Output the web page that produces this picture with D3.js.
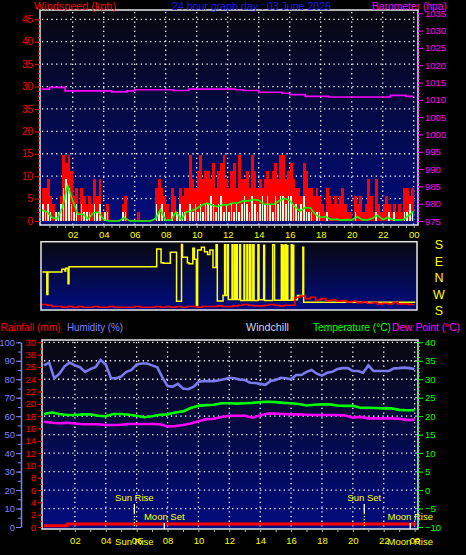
<!DOCTYPE html>
<html><head><meta charset="utf-8">
<script src="https://cdn.jsdelivr.net/npm/d3@7"></script>
<style>html,body{margin:0;padding:0;background:#000;}svg{display:block;}</style>
</head><body><svg id="c" width="466" height="555"></svg>
<script>
// ---------- data ----------
const hourTicks = [2,4,6,8,10,12,14,16,18,20,22,24];
const hourLabels = ["02","04","06","08","10","12","14","16","18","20","22","00"];
const windTicks = [0,5,10,15,20,25,30,35,40,45];
const windTickLabels = ["0","5","10","15","20","35","30","35","40","45"];
const baroTicks = [975,980,985,990,995,1000,1005,1010,1015,1020,1025,1030,1035];
const humTicks = [0,10,20,30,40,50,60,70,80,90,100];
const rainTicks = [0,2,4,6,8,10,12,14,16,18,20,22,24,26,28,30];
const rainTickLabels = ["0","2","4","6","8","10","12","14","16","18","20","22","24","26","38","30"];
const tempTicks = [-10,-5,0,5,10,15,20,25,30,35,40];
const dirTicks = [180,90,0,-90,-180];
const dirLabels = ["S","E","N","W","S"];

// wind gust (kph), 10-minute slots
const gust10min = [7.4,7.4,9.3,5.6,3.7,1.9,1.9,5.6,14.8,13,
 14.8,11.1,5.6,7.4,1.9,7.4,5.6,3.7,5.6,3.7,
 9.3,5.6,9.3,1.9,1.9,3.7,0,0,0,0,
 0,3.7,5.6,0,0,0,0,1.9,0,0,
 0,0,0,0,7.4,9.3,7.4,5.6,3.7,1.9,
 7.4,5.6,1.9,7.4,5.6,7.4,7.4,14.8,9.3,7.4,
 11.1,14.8,9.3,11.1,11.1,9.3,13,7.4,11.1,13,
 14.8,9.3,7.4,11.1,13,7.4,14.8,9.3,9.3,11.1,
 7.4,14.8,11.1,7.4,9.3,7.4,9.3,11.1,9.3,11.1,
 13,9.3,14.8,14.8,9.3,11.1,13,9.3,7.4,7.4,
 5.6,13,11.1,7.4,7.4,5.6,7.4,5.6,3.7,1.9,
 7.4,5.6,3.7,5.6,3.7,5.6,7.4,3.7,1.9,1.9,
 0,5.6,3.7,5.6,1.9,3.7,9.3,5.6,1.9,9.3,
 3.7,1.9,3.7,5.6,3.7,1.9,3.7,1.9,3.7,1.9,
 7.4,7.4,5.6,7.4];
// wind speed (kph), 10-minute slots
const speed10min = [3.7,1.9,3.7,1.9,0,1.9,1.9,3.7,7.4,9.3,
 7.4,3.7,1.9,3.7,0,3.7,1.9,1.9,1.9,0,
 3.7,1.9,3.7,0,1.9,1.9,0,0,0,0,
 0,1.9,1.9,0,0,0,0,0,0,0,
 0,0,0,0,3.7,1.9,3.7,1.9,0,0,
 1.9,0,1.9,3.7,1.9,1.9,0,3.7,1.9,3.7,
 1.9,3.7,1.9,3.7,3.7,5.6,3.7,1.9,3.7,5.6,
 1.9,3.7,1.9,3.7,1.9,3.7,1.9,3.7,5.6,3.7,
 1.9,5.6,3.7,1.9,3.7,5.6,3.7,5.6,3.7,1.9,
 5.6,3.7,5.6,5.6,3.7,5.6,5.6,3.7,3.7,1.9,
 3.7,5.6,1.9,1.9,1.9,0,1.9,1.9,0,0,
 1.9,0,0,0,0,0,0,0,0,0,
 0,1.9,0,0,0,0,0,0,0,1.9,
 0,0,0,0,1.9,0,1.9,0,0,0,
 1.9,1.9,3.7,1.9];
// average wind (kph), 20-minute points
const avg20min = [2.5,2.0,0.8,0.5,3.0,8.0,4.5,1.5,1.5,0.5,
 1.8,2.0,0.3,0,0,0,0.8,0,0,0,
 0,0,0.5,2.5,0.2,0.2,2.0,0.3,2.0,2.3,
 2.8,3.5,4.0,3.5,3.2,3.6,3.6,4.0,4.0,4.5,
 4.5,4.8,4.6,3.8,3.7,3.8,4.5,5.0,4.6,3.2,
 2.2,3.0,2.9,1.4,0.8,1.0,0.3,0.4,0.2,0.3,
 0.2,1.0,0.3,0.2,0.6,1.3,0.3,0.8,0.3,0.2,
 0.3,1.2,2.2];
// barometer (hPa), 30-minute points
const baro30min = [1013.1,1013.6,1013.6,1012.6,1012.6,1012.6,1012.6,1012.6,1012.6,1012.3,
 1012.3,1012.6,1012.9,1012.9,1012.9,1012.9,1012.9,1012.7,1012.7,1013.1,
 1013.1,1013.1,1013.1,1013.1,1013.1,1012.9,1012.7,1012.7,1012.2,1012.2,
 1012.2,1011.9,1011.5,1011.5,1011.0,1011.0,1011.0,1010.8,1010.8,1010.8,
 1010.8,1010.8,1010.8,1010.8,1010.8,1011.3,1011.3,1011.0,1011.0];
// wind direction (degrees) at change times (hours)
const dirHours = [0.05,0.33,0.4,1.3,1.5,1.55,1.7,1.76,7.42,7.7,7.85,8.3,8.7,9.02,9.08,9.4,9.5,9.75,9.85,9.98,
 10.06,10.3,10.5,10.7,10.85,11.05,11.25,11.33,11.7,11.8,11.86,11.98,12.04,12.28,12.34,12.45,12.5,12.56,12.62,12.77,
 12.83,13.05,13.1,13.24,13.3,13.42,13.5,13.62,13.7,13.95,14.02,14.32,14.38,14.9,15.02,15.46,15.51,15.57,15.62,15.72,
 15.77,15.83,15.88,16.1,16.15,16.21,16.26,16.5,16.85,16.9,24.1];
const dirDegrees = [30,267,30,45,35,50,326,58,156,80,78,138,231,180,110,80,75,160,100,205,
 150,165,140,125,150,55,178,232,262,178,262,178,240,178,240,178,240,178,240,178,
 235,178,235,178,235,178,235,178,235,178,238,176,235,178,236,178,236,176,236,178,
 236,175,236,178,236,176,238,262,165,225,225];
// red trace in direction panel (relative %), 20-minute points
const dirTrace20min = [9,8,6,6,5,6,5,6,5,5,
 6,5,5,6,5,5,5,5,6,5,
 5,5,6,5,6,5,6,5,6,6,
 5,6,6,6,7,6,6,7,8,9,
 8,7,7,8,9,8,7,8,
 8,20,22,18,20,16,18,15,16,14,15,13,14,12,13,11,12,10,11,10,12,10,10,9,10];
// humidity (%), 20-minute points
const humidity20min = [87.5,89,80.5,83,87,89,87.5,86.5,84,85.5,
 86.5,90.5,88,80.7,80.5,81.5,84,85,88,88.5,
 88.5,87.5,86.5,81,76.3,76,77.5,75,74.6,75.8,
 78.5,79,79,79,79.5,80,80.8,80.5,79.8,79.6,
 78.1,78,77.5,77,79,79.6,80.8,80.5,80,82.3,
 82.3,84,85,83,82,83.5,84,85.5,86,86,
 84.5,84.5,83.5,87.5,84.5,84.5,84.5,84.5,85.9,86,
 86.3,86,85.5];
// temperature (°C), 30-minute points
const temperature30min = [20.6,21.0,20.6,20.3,20.3,20.5,20.5,20.1,20.0,20.6,
 20.6,20.4,20.1,19.7,20.0,20.4,20.5,21.0,21.3,22.2,
 22.8,23.0,23.1,23.5,23.5,23.4,23.5,23.6,23.8,23.9,
 23.8,23.6,23.5,23.3,22.9,23.1,23.2,23.2,22.9,22.8,
 22.8,22.3,22.3,22.2,22.1,22.1,21.7,21.6,21.6];
// dew point (°C), 30-minute points
const dewPoint30min = [18.5,18.2,18.1,18.2,18.0,17.8,17.8,17.8,17.6,17.6,
 17.7,17.9,17.9,17.9,17.9,17.8,17.2,17.3,17.6,18.0,
 18.6,19.2,19.3,19.8,20.1,20.1,20.1,19.6,20.2,20.7,
 20.7,20.6,20.5,20.5,20.4,20.3,20.3,20.3,20.3,20.2,
 19.6,19.8,19.4,19.4,19.4,19.4,19.3,19.0,19.0];
// rainfall (mm), 30-minute points
const rain30min = [0,0,0,0.3,0.3,0.3,0.3,0.3,0.3,0.3,
 0.3,0.3,0.3,0.3,0.3,0.3,0.3,0.3,0.3,0.3,
 0.3,0.3,0.3,0.3,0.3,0.3,0.3,0.3,0.3,0.3,
 0.3,0.3,0.3,0.3,0.3,0.3,0.3,0.3,0.3,0.3,
 0.3,0.3,0.3,0.3,0.3,0.3,0.3,0.3,0];
const eventNames = ["Sun Rise","Moon Set","Sun Set","Moon Rise"];
const eventHours = [5.85,7.79,20.74,23.72];
const eventKinds = ["sun","moon","sun","moon"];

// ---------- drawing ----------
const FONT = "'Liberation Sans', Arial, sans-serif";
const svg = d3.select("#c");
svg.append("rect").attr("width",466).attr("height",555).attr("fill","#000");
const defs = svg.append("defs");
const grad = defs.append("linearGradient").attr("id","bg").attr("x1",0).attr("y1",0).attr("x2",0).attr("y2",1);
grad.append("stop").attr("offset","0%").attr("stop-color","#08080f");
grad.append("stop").attr("offset","100%").attr("stop-color","#000c80");

const xTop = d3.scaleLinear().domain([0,24]).range([41.7,413.7]);
const xBot = d3.scaleLinear().domain([0,24]).range([44,414.6]);
const yWind = d3.scaleLinear().domain([0,45]).range([221,19.3]);
const yBaro = d3.scaleLinear().domain([975,1035]).range([221,13.3]);
const yDir = d3.scaleLinear().domain([-180,180]).range([310.5,244.5]);
const yTrace = d3.scaleLinear().domain([0,100]).range([310.5,244.5]);
const yHum = d3.scaleLinear().domain([0,100]).range([527,342.3]);
const yRain = d3.scaleLinear().domain([0,30]).range([527,342.3]);
const yTemp = d3.scaleLinear().domain([-10,40]).range([527,342.3]);

const P1 = {x:40,y:10,w:378,h:215};
const P2 = {x:41,y:241.7,w:376,h:68.3};
const P3 = {x:42,y:340,w:376,h:189};

function panelBg(p,id){
  svg.append("rect").attr("x",p.x).attr("y",p.y).attr("width",p.w).attr("height",p.h).attr("fill","url(#bg)");
  defs.append("clipPath").attr("id",id).append("rect").attr("x",p.x).attr("y",p.y).attr("width",p.w).attr("height",p.h);
}
panelBg(P1,"c1"); panelBg(P2,"c2"); panelBg(P3,"c3");

function grid(p, xs, ys){
  const g = svg.append("g").attr("stroke","#ffffff").attr("stroke-width",1.3).attr("stroke-dasharray","1.3,3.4");
  g.selectAll("line.v").data(xs).join("line").attr("x1",d=>d).attr("x2",d=>d).attr("y1",p.y+2).attr("y2",p.y+p.h);
  g.selectAll("line.h").data(ys).join("line").attr("x1",p.x+2).attr("x2",p.x+p.w).attr("y1",d=>d).attr("y2",d=>d);
}
grid(P1, hourTicks.map(xTop), windTicks.slice(1).map(yWind));
grid(P3, hourTicks.map(xBot), humTicks.slice(1).map(yHum));

// ----- top panel data -----
const g1 = svg.append("g").attr("clip-path","url(#c1)");
const slot = 1/6;
g1.append("g").attr("shape-rendering","crispEdges").selectAll("rect").data(gust10min).join("rect")
  .attr("x",(d,i)=>xTop(i*slot)).attr("width",(d,i)=>xTop((i+1)*slot)-xTop(i*slot)+0.3)
  .attr("y",d=>Math.min(yWind(d),yWind(0)-1)).attr("height",d=>Math.max(1,yWind(0)-yWind(d)))
  .attr("fill","#ff0000");
g1.append("g").attr("shape-rendering","crispEdges").selectAll("rect").data(speed10min).join("rect")
  .attr("x",(d,i)=>xTop(i*slot)+0.4).attr("width",(d,i)=>Math.max(1,xTop((i+1)*slot)-xTop(i*slot)-1))
  .attr("y",d=>yWind(d)).attr("height",d=>yWind(0)-yWind(d))
  .attr("fill","#e4ffe4");
g1.append("path").datum(avg20min).attr("fill","none").attr("stroke","#00ff00").attr("stroke-width",1.6)
  .attr("d",d3.line().x((d,i)=>xTop(i/3)).y(d=>yWind(d)));
g1.append("path").datum(baro30min).attr("fill","none").attr("stroke","#ff00ff").attr("stroke-width",1.6)
  .attr("d",d3.line().curve(d3.curveStepAfter).x((d,i)=>xTop(i*0.5)).y(d=>yBaro(d)));

// ----- direction panel data -----
const g2 = svg.append("g").attr("clip-path","url(#c2)");
g2.append("path").datum(dirHours.map((h,i)=>[h,dirDegrees[i]])).attr("fill","none").attr("stroke","#ffff00").attr("stroke-width",1.5)
  .attr("d",d3.line().curve(d3.curveStepAfter).x(d=>xTop(d[0])).y(d=>yDir(d[1]>180?d[1]-360:d[1])));
g2.append("path").datum(dirTrace20min).attr("fill","none").attr("stroke","#ff0000").attr("stroke-width",1.6)
  .attr("d",d3.line().curve(d3.curveStepAfter).x((d,i)=>xTop(i/3)).y(d=>yTrace(d)));

// ----- bottom panel data -----
const g3 = svg.append("g").attr("clip-path","url(#c3)");
g3.append("path").datum(humidity20min).attr("fill","none").attr("stroke","#7a7aee").attr("stroke-width",2.6)
  .attr("d",d3.line().x((d,i)=>xBot(i/3)).y(d=>yHum(d)));
g3.append("path").datum(temperature30min).attr("fill","none").attr("stroke","#00ff00").attr("stroke-width",2.6)
  .attr("d",d3.line().x((d,i)=>xBot(i*0.5)).y(d=>yTemp(d)));
g3.append("path").datum(dewPoint30min).attr("fill","none").attr("stroke","#ff00ff").attr("stroke-width",2.6)
  .attr("d",d3.line().x((d,i)=>xBot(i*0.5)).y(d=>yTemp(d)));
g3.append("path").datum(rain30min).attr("fill","none").attr("stroke","#ff0000").attr("stroke-width",3)
  .attr("d",d3.line().curve(d3.curveStepAfter).x((d,i)=>xBot(i*0.5)).y(d=>yRain(d)-1.2));

// events
const ev = svg.append("g");
eventNames.forEach((name,i)=>{
  const x = xBot(eventHours[i]);
  if(eventKinds[i]==="sun"){
    ev.append("line").attr("x1",x).attr("x2",x).attr("y1",504).attr("y2",513).attr("stroke","#ffffff").attr("stroke-width",1.3);
    ev.append("line").attr("x1",x).attr("x2",x).attr("y1",513).attr("y2",529).attr("stroke","#ffff00").attr("stroke-width",1.2).attr("stroke-dasharray","1.2,1.8");
    ev.append("text").attr("x",x).attr("y",501).text(name);
  } else {
    ev.append("line").attr("x1",x).attr("x2",x).attr("y1",523).attr("y2",529).attr("stroke","#ffffff").attr("stroke-width",1.3);
    ev.append("text").attr("x",x).attr("y",520).text(name);
  }
});
ev.selectAll("text").attr("fill","#ffff00").attr("font-family",FONT).attr("font-size",9.5).attr("text-anchor","middle");

// frames
[P1,P2,P3].forEach(p=>{
  svg.append("rect").attr("x",p.x).attr("y",p.y).attr("width",p.w).attr("height",p.h)
    .attr("fill","none").attr("stroke","#e6e6e6").attr("stroke-width",1.5);
});

// ----- axes -----
function styleAxis(g,color,size,keepDomain){
  g.attr("font-family",FONT).attr("font-size",size);
  g.selectAll("text").attr("fill",color);
  g.selectAll("line").attr("stroke",color);
  if(keepDomain) g.select(".domain").attr("stroke",color).attr("stroke-width",1.5);
  else g.select(".domain").remove();
  return g;
}
// wind (left)
styleAxis(svg.append("g").attr("transform","translate(40,0)")
  .call(d3.axisLeft(yWind).tickValues(d3.range(0,46,1)).tickSize(2).tickFormat("")),"#ff0000",9.5);
styleAxis(svg.append("g").attr("transform","translate(40,0)")
  .call(d3.axisLeft(yWind).tickValues(windTicks).tickSize(5).tickPadding(2).tickFormat((d,i)=>windTickLabels[i])),"#ff0000",10);
// barometer (right)
styleAxis(svg.append("g").attr("transform","translate(418,0)")
  .call(d3.axisRight(yBaro).tickValues(d3.range(975,1036,1)).tickSize(2).tickFormat("")),"#ff00ff",9.5);
styleAxis(svg.append("g").attr("transform","translate(418,0)")
  .call(d3.axisRight(yBaro).tickValues(baroTicks).tickSize(5).tickPadding(2).tickFormat(d3.format("d"))),"#ff00ff",9.5);
// top hour axis
styleAxis(svg.append("g").attr("transform","translate(0,225)")
  .call(d3.axisBottom(xTop).tickValues(d3.range(0.5,24.01,0.5)).tickSize(3).tickFormat("")),"#b0b0b0",9);
styleAxis(svg.append("g").attr("transform","translate(0,225)")
  .call(d3.axisBottom(xTop).tickValues(hourTicks).tickSize(0).tickPadding(6.5).tickFormat((d,i)=>hourLabels[i])),"#ffff00",9.5);
// direction labels
const dAx = styleAxis(svg.append("g").attr("transform","translate(417,0)")
  .call(d3.axisRight(yDir).tickValues(dirTicks).tickSize(0).tickPadding(22).tickFormat((d,i)=>dirLabels[i])),"#ffff00",12.5);
dAx.selectAll("text").attr("text-anchor","middle");
// humidity (left, blue)
styleAxis(svg.append("g").attr("transform","translate(21,0)")
  .call(d3.axisLeft(yHum).tickValues(d3.range(0,101,5)).tickSize(3).tickSizeOuter(0).tickFormat("")),"#8080ff",9.5,true);
styleAxis(svg.append("g").attr("transform","translate(21,0)")
  .call(d3.axisLeft(yHum).tickValues(humTicks).tickSize(5).tickPadding(1).tickFormat(d3.format("d"))),"#8080ff",9.5);
// rainfall (left, red)
styleAxis(svg.append("g").attr("transform","translate(42,0)")
  .call(d3.axisLeft(yRain).tickValues(d3.range(0,31,1)).tickSize(2).tickFormat("")),"#ff0000",9.5);
styleAxis(svg.append("g").attr("transform","translate(42,0)")
  .call(d3.axisLeft(yRain).tickValues(rainTicks).tickSize(4).tickPadding(2).tickFormat((d,i)=>rainTickLabels[i])),"#ff0000",9.5);
// temperature (right, green)
styleAxis(svg.append("g").attr("transform","translate(418,0)")
  .call(d3.axisRight(yTemp).tickValues(d3.range(-10,41,1)).tickSize(2).tickFormat("")),"#00ff00",9.5);
styleAxis(svg.append("g").attr("transform","translate(418,0)")
  .call(d3.axisRight(yTemp).tickValues(tempTicks).tickSize(5).tickPadding(2).tickFormat(d3.format("d"))),"#00ff00",9.5);
// bottom hour axis
styleAxis(svg.append("g").attr("transform","translate(0,529)")
  .call(d3.axisBottom(xBot).tickValues(d3.range(1,24.01,1)).tickSize(3).tickFormat("")),"#b0b0b0",9);
styleAxis(svg.append("g").attr("transform","translate(0,529)")
  .call(d3.axisBottom(xBot).tickValues(hourTicks).tickSize(0).tickPadding(8.3).tickFormat((d,i)=>hourLabels[i])),"#ffff00",9.5);
// rise events on the bottom axis
const riseIdx = [0,3];
svg.append("g").selectAll("text").data(riseIdx).join("text")
  .attr("x",i=>xBot(eventHours[i])).attr("y",544.5).text(i=>eventNames[i])
  .attr("fill","#ffff00").attr("font-family",FONT).attr("font-size",9.5).attr("text-anchor","middle");

// ----- titles -----
const titles = [
  {t:"Windspeed (kph)", x:34, y:9.5, w:82, c:"#ff0000", s:11.5},
  {t:"24 hour graph day : 03 June 2026", x:172, y:9.5, w:159, c:"#1a1aff", s:11.5},
  {t:"Barometer (hpa)", x:372, y:9.5, w:75, c:"#ff00ff", s:11.5},
  {t:"Rainfall (mm)", x:0.5, y:331, w:60, c:"#ff0000", s:11.5},
  {t:"Humidity (%)", x:67, y:331, w:56, c:"#8080ff", s:11.5},
  {t:"Windchill", x:246, y:331, w:43, c:"#c8d4f4", s:11.5},
  {t:"Temperature (°C)", x:313, y:331, w:78, c:"#00ff00", s:11.5},
  {t:"Dew Point (°C)", x:392, y:331, w:68, c:"#ff00ff", s:10.5}
];
svg.append("g").selectAll("text").data(titles).join("text")
  .attr("x",d=>d.x).attr("y",d=>d.y).attr("fill",d=>d.c).attr("textLength",d=>d.w)
  .attr("lengthAdjust","spacingAndGlyphs")
  .attr("font-family",FONT).attr("font-size",d=>d.s).text(d=>d.t);
</script></body></html>
